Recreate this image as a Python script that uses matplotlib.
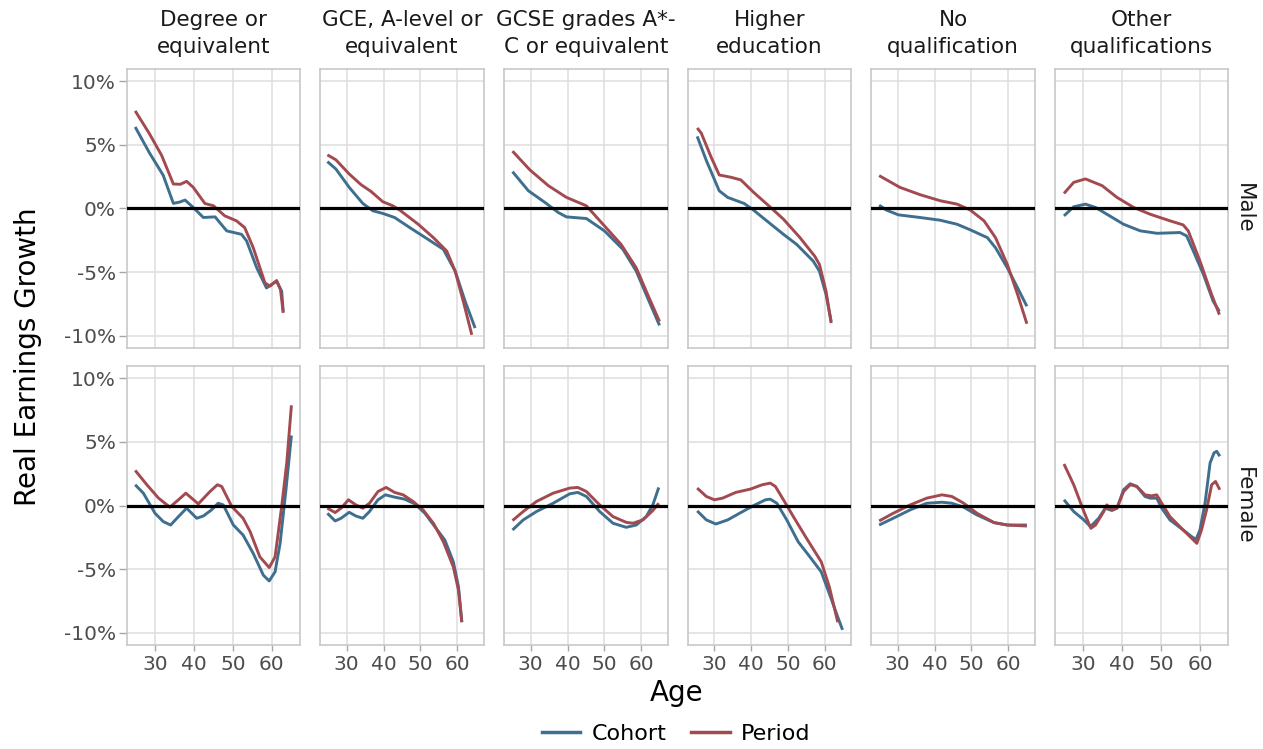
import numpy as np
import matplotlib.pyplot as plt
import matplotlib.gridspec as gridspec
from matplotlib.lines import Line2D
from matplotlib.ticker import FuncFormatter

plt.rcParams['font.family'] = ['DejaVu Sans']

quals = ['Degree or\nequivalent', 'GCE, A-level or\nequivalent', 'GCSE grades A*-\nC or equivalent',
         'Higher\neducation', 'No\nqualification', 'Other\nqualifications']
sexes = ['Male', 'Female']

# (age, real earnings growth %) -- male
degree_m_cohort = [(24.9, 6.4), (28.5, 4.4), (32.1, 2.6), (34.7, 0.4), (36.3, 0.5), (37.7, 0.66), (39.8, 0.08),
                   (42.4, -0.71), (45.4, -0.66), (48.4, -1.76), (52.2, -2.03), (53.5, -2.55), (56.1, -4.66),
                   (58.6, -6.24), (60.2, -5.9), (61.2, -5.71), (62.5, -6.5), (62.9, -8.1)]
degree_m_period = [(24.9, 7.66), (28.5, 5.9), (31.7, 4.16), (34.7, 1.92), (36.5, 1.9), (38.1, 2.13), (39.8, 1.66),
                   (42.8, 0.39), (45.0, 0.21), (47.9, -0.58), (50.9, -0.97), (53.0, -1.5), (55.2, -3.08),
                   (58.2, -5.84), (59.5, -6.1), (61.2, -5.66), (62.2, -6.37), (62.9, -8.2)]
gce_m_cohort = [(24.8, 3.68), (27.1, 3.1), (30.7, 1.66), (34.4, 0.39), (37.1, -0.18), (39.8, -0.39), (43.0, -0.71),
                (47.1, -1.5), (51.6, -2.34), (56.2, -3.21), (59.4, -4.92), (62.1, -7.29), (64.8, -9.39)]
gce_m_period = [(24.8, 4.21), (27.1, 3.82), (30.7, 2.71), (33.9, 1.87), (36.6, 1.34), (39.8, 0.53), (42.5, 0.21),
                (44.4, -0.13), (49.4, -1.24), (53.5, -2.29), (57.1, -3.34), (59.4, -4.92), (61.6, -7.29),
                (63.9, -9.92)]
gcse_m_cohort = [(25.1, 2.89), (29.4, 1.39), (33.9, 0.47), (37.5, -0.32), (39.7, -0.66), (45.1, -0.79),
                 (50.0, -1.76), (55.0, -3.21), (58.6, -4.92), (61.7, -7.03), (64.9, -9.18)]
gcse_m_period = [(25.1, 4.5), (29.8, 3.03), (34.8, 1.79), (39.7, 0.87), (45.1, 0.21), (49.6, -1.24),
                 (54.5, -2.82), (58.6, -4.66), (61.7, -6.76), (64.9, -8.87)]
higher_m_cohort = [(25.3, 5.66), (27.8, 3.76), (31.3, 1.39), (33.6, 0.87), (38.1, 0.39), (40.3, -0.05),
                   (44.8, -1.1), (48.8, -2.03), (52.4, -2.82), (56.9, -4.13), (58.6, -4.92), (60.4, -6.76),
                   (61.8, -8.87)]
higher_m_period = [(25.3, 6.32), (26.4, 5.92), (29.1, 4.03), (31.3, 2.63), (34.5, 2.45), (37.2, 2.24),
                   (40.7, 1.26), (44.8, 0.21), (48.8, -0.84), (53.3, -2.29), (57.3, -3.74), (58.6, -4.39),
                   (60.4, -6.5), (61.8, -9.0)]
noqual_m_cohort = [(25.0, 0.26), (27.0, -0.13), (30.2, -0.5), (36.1, -0.71), (41.5, -0.92), (46.1, -1.24),
                   (49.7, -1.68), (54.3, -2.29), (56.5, -3.08), (59.7, -4.66), (62.5, -6.24), (65.0, -7.68)]
noqual_m_period = [(25.0, 2.58), (30.6, 1.66), (36.1, 1.08), (41.5, 0.61), (46.1, 0.34), (49.7, -0.13),
                   (53.4, -0.97), (56.5, -2.29), (59.7, -4.39), (62.5, -6.76), (65.0, -9.05)]
other_m_cohort = [(25.1, -0.58), (27.6, 0.13), (30.6, 0.34), (33.2, 0.08), (36.1, -0.45), (40.4, -1.24),
                  (44.7, -1.76), (49.0, -1.95), (54.9, -1.89), (56.6, -2.16), (58.3, -3.34), (60.9, -5.18),
                  (63.4, -7.29), (65.0, -8.08)]
other_m_period = [(25.1, 1.18), (27.6, 2.05), (30.6, 2.32), (34.9, 1.79), (38.7, 0.87), (43.0, 0.08),
                  (47.2, -0.45), (52.3, -0.97), (55.7, -1.29), (57.0, -1.76), (60.0, -4.13), (63.0, -6.76),
                  (65.0, -8.34)]

# (age, real earnings growth %) -- female
degree_f_cohort = [(24.9, 1.63), (27.0, 0.97), (30.0, -0.61), (32.1, -1.26), (34.0, -1.53), (36.0, -0.87),
                   (38.1, -0.21), (40.7, -1.0), (42.4, -0.82), (44.5, -0.34), (46.2, 0.18), (47.5, 0.05),
                   (50.1, -1.53), (52.6, -2.32), (55.2, -3.76), (57.8, -5.47), (59.3, -5.92), (60.8, -5.21),
                   (62.1, -2.97), (63.6, 1.24), (65.0, 5.5)]
degree_f_period = [(24.9, 2.76), (27.9, 1.63), (30.9, 0.58), (33.8, -0.13), (36.0, 0.45), (37.9, 0.97),
                   (41.1, 0.13), (44.1, 1.1), (46.0, 1.63), (47.1, 1.5), (49.7, -0.08), (52.6, -1.0),
                   (54.4, -2.05), (56.9, -4.03), (59.3, -4.87), (60.8, -4.03), (62.5, -0.08), (63.8, 3.34),
                   (65.0, 7.87)]
gce_f_cohort = [(24.8, -0.61), (26.9, -1.21), (28.5, -1.0), (30.7, -0.53), (32.5, -0.82), (34.4, -1.0),
                (36.2, -0.47), (38.5, 0.45), (40.5, 0.84), (43.0, 0.66), (45.7, 0.5), (48.5, 0.13),
                (51.2, -0.61), (53.9, -1.66), (56.6, -2.71), (58.9, -4.42), (60.3, -6.39), (61.2, -9.16)]
gce_f_period = [(24.8, -0.21), (26.9, -0.55), (28.5, -0.21), (30.5, 0.45), (32.5, 0.05), (34.4, -0.21),
                (36.2, 0.18), (38.5, 1.1), (40.7, 1.42), (43.0, 1.03), (45.3, 0.84), (48.0, 0.32),
                (50.7, -0.34), (53.5, -1.39), (56.2, -2.84), (58.9, -4.82), (60.3, -6.66), (61.2, -9.16)]
gcse_f_cohort = [(25.1, -1.92), (28.0, -1.13), (31.6, -0.47), (36.1, 0.18), (40.6, 0.92), (42.8, 1.03),
                 (45.1, 0.71), (48.7, -0.47), (52.3, -1.39), (55.9, -1.71), (58.6, -1.53), (61.3, -0.87),
                 (63.1, 0.05), (64.7, 1.42)]
gcse_f_period = [(25.1, -1.18), (28.0, -0.47), (31.6, 0.32), (36.1, 0.97), (40.6, 1.37), (42.8, 1.42),
                 (45.1, 1.1), (48.7, 0.05), (52.3, -0.87), (55.9, -1.32), (57.7, -1.39), (60.4, -1.13),
                 (63.1, -0.39), (64.7, 0.18)]
higher_f_cohort = [(25.3, -0.42), (27.8, -1.13), (30.4, -1.45), (33.6, -1.13), (37.2, -0.55), (40.7, 0.0),
                   (43.9, 0.45), (45.2, 0.5), (47.0, 0.18), (49.7, -1.13), (52.8, -2.84), (56.0, -4.03),
                   (59.1, -5.21), (61.3, -6.92), (63.6, -8.76), (64.9, -9.76)]
higher_f_period = [(25.3, 1.37), (27.8, 0.71), (30.0, 0.45), (32.2, 0.58), (35.8, 1.03), (39.8, 1.29),
                   (43.0, 1.63), (45.2, 1.76), (46.6, 1.5), (48.8, 0.45), (51.5, -0.87), (55.1, -2.58),
                   (59.1, -4.42), (61.3, -6.39), (63.6, -9.16)]
noqual_f_cohort = [(25.0, -1.53), (28.8, -1.0), (33.4, -0.34), (37.9, 0.18), (42.0, 0.26), (44.7, 0.18),
                   (47.9, -0.13), (51.5, -0.74), (56.1, -1.34), (59.7, -1.53), (65.0, -1.53)]
noqual_f_period = [(25.0, -1.21), (28.8, -0.61), (33.4, 0.05), (37.9, 0.58), (42.0, 0.84), (44.7, 0.71),
                   (47.9, 0.18), (51.5, -0.61), (56.1, -1.34), (59.7, -1.53), (65.0, -1.61)]
other_f_cohort = [(25.1, 0.45), (27.6, -0.47), (30.2, -1.13), (31.9, -1.66), (34.0, -1.0), (35.7, -0.21),
                  (37.4, -0.39), (38.7, -0.21), (40.4, 1.24), (42.1, 1.71), (43.8, 1.5), (45.9, 0.71),
                  (47.2, 0.58), (48.9, 0.58), (50.2, -0.21), (52.3, -1.13), (55.7, -1.92), (57.9, -2.45),
                  (59.0, -2.66), (60.0, -1.92), (61.3, 0.18), (62.6, 3.34), (63.6, 4.13), (64.3, 4.26),
                  (65.1, 3.87)]
other_f_period = [(25.1, 3.26), (27.6, 1.63), (30.2, -0.47), (32.0, -1.79), (33.2, -1.53), (35.3, -0.47),
                  (36.1, 0.05), (37.4, -0.34), (38.7, -0.21), (40.4, 1.1), (42.1, 1.63), (43.8, 1.5),
                  (45.9, 0.84), (47.6, 0.76), (48.9, 0.84), (50.2, 0.18), (52.3, -0.87), (55.7, -1.92),
                  (57.9, -2.58), (59.2, -2.97), (60.4, -1.92), (61.7, -0.34), (63.0, 1.63), (64.0, 1.89),
                  (65.1, 1.24)]

cohort = [[degree_m_cohort, gce_m_cohort, gcse_m_cohort, higher_m_cohort, noqual_m_cohort, other_m_cohort],
          [degree_f_cohort, gce_f_cohort, gcse_f_cohort, higher_f_cohort, noqual_f_cohort, other_f_cohort]]
period = [[degree_m_period, gce_m_period, gcse_m_period, higher_m_period, noqual_m_period, other_m_period],
          [degree_f_period, gce_f_period, gcse_f_period, higher_f_period, noqual_f_period, other_f_period]]

x_ticks = [30, 40, 50, 60]
y_ticks = [-10, -5, 0, 5, 10]

c_cohort = '#3e6f8f'
c_period = '#a24a50'
grid_col = '#dedede'
border_col = '#c8c8c8'
tick_col = '#4d4d4d'

fig = plt.figure(figsize=(12.63, 7.49), dpi=100)
gs = gridspec.GridSpec(2, 6, figure=fig, width_ratios=[173, 164, 164, 163, 164, 173],
                       left=127/1263, right=1228/1263, top=1-69/749, bottom=1-645/749,
                       wspace=0.12, hspace=0.065)

pct = FuncFormatter(lambda v, p: '%d%%' % v)

for r in range(2):
    for c in range(6):
        ax = fig.add_subplot(gs[r, c])
        ax.set_xlim(22.8, 67.2)
        ax.set_ylim(-10.95, 10.95)
        ax.set_xticks(x_ticks)
        ax.set_yticks(y_ticks)
        ax.grid(True, color=grid_col, lw=1.1)
        ax.set_axisbelow(True)
        for s in ax.spines.values():
            s.set_color(border_col)
            s.set_linewidth(1.2)
        ca = np.array(cohort[r][c])
        pa = np.array(period[r][c])
        ax.plot(ca[:, 0], ca[:, 1], color=c_cohort, lw=2.1, solid_capstyle='butt', zorder=3)
        ax.plot(pa[:, 0], pa[:, 1], color=c_period, lw=2.1, solid_capstyle='butt', zorder=3)
        ax.axhline(0, color='black', lw=2.3, zorder=4)
        ax.tick_params(axis='y', length=5.5, width=1, color='#a8a8a8', labelcolor=tick_col,
                       labelsize=14.5, pad=2.5)
        ax.tick_params(axis='x', length=4.5, width=1, color='#a8a8a8', labelcolor=tick_col,
                       labelsize=14.5, pad=3)
        ax.yaxis.set_major_formatter(pct)
        if c != 0:
            ax.tick_params(axis='y', left=False, labelleft=False)
        if r != 1:
            ax.tick_params(axis='x', bottom=False, labelbottom=False)
        if r == 0:
            ax.text(0.5, 1.0 + 35/278, quals[c], transform=ax.transAxes, ha='center', va='center',
                    fontsize=15.5, color='#1a1a1a', linespacing=1.45)
        if c == 5:
            ax.text(1.0 + 16/173, 0.5, sexes[r], transform=ax.transAxes, ha='center', va='center',
                    rotation=-90, fontsize=15.5, color='#1a1a1a')

fig.text(28/1263, 1-357/749, 'Real Earnings Growth', rotation=90, ha='center', va='center', fontsize=20)
fig.text(677/1263, 1-693/749, 'Age', ha='center', va='center', fontsize=20)

handles = [Line2D([], [], color=c_cohort, lw=2.5), Line2D([], [], color=c_period, lw=2.5)]
fig.legend(handles, ['Cohort', 'Period'], loc='center', bbox_to_anchor=(676/1263, 1-734/749), ncol=2,
           frameon=False, fontsize=16, handlelength=1.75, columnspacing=1.1, handletextpad=0.5)

fig.savefig('out.png', dpi=100, facecolor='w')
